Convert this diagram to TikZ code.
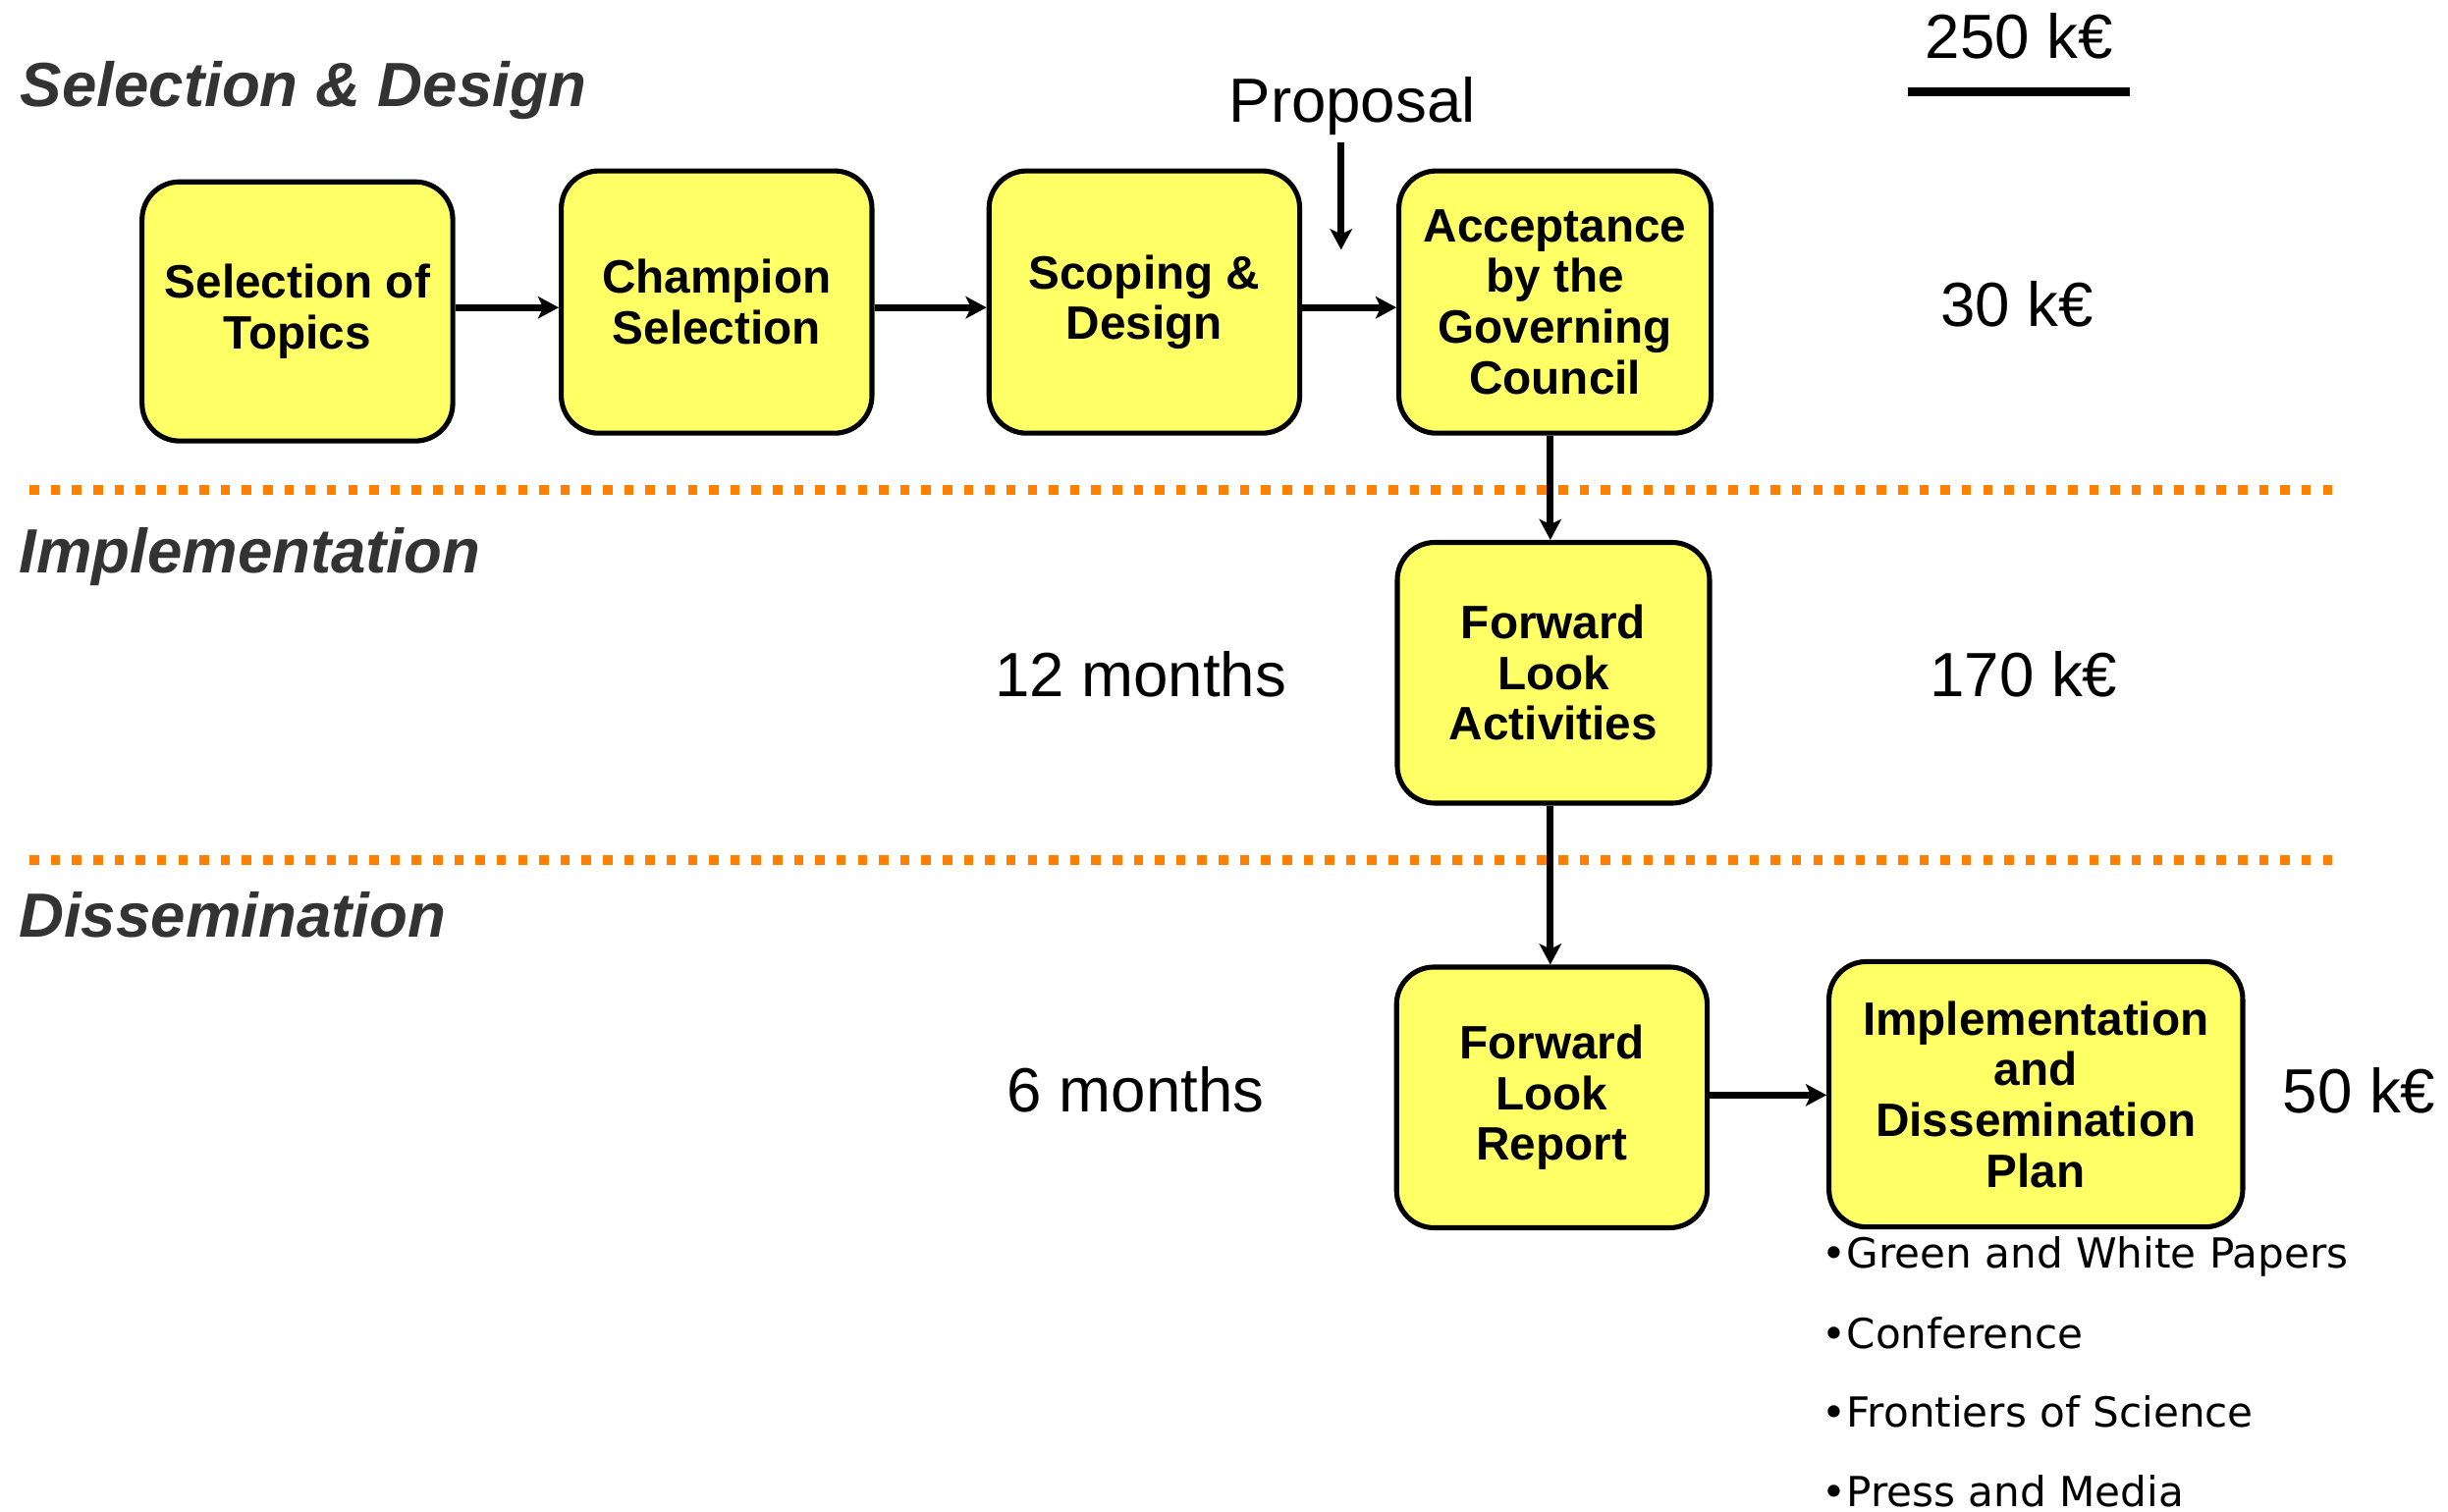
\documentclass[tikz,border=0pt]{standalone}
\usepackage{fontspec}
\setmainfont{Liberation Sans}
\newfontfamily\bulletfont{DejaVu Sans}
\usetikzlibrary{arrows.meta}
\definecolor{boxfill}{RGB}{255,255,102}
\definecolor{sepor}{RGB}{255,128,0}
\definecolor{headgray}{RGB}{51,51,51}
\tikzset{
  stagebox/.style={draw=black, line width=3.2pt, fill=boxfill, rounded corners=24pt,
    align=center, inner sep=0pt, minimum width=#1, minimum height=167pt,
    font=\fontsize{30}{32.5}\selectfont\bfseries},
  stagebox/.default=199pt,
  head/.style={anchor=base west, inner sep=0pt, text=headgray,
    font=\fontsize{40}{48}\selectfont\bfseries\itshape},
  lbl/.style={anchor=base west, inner sep=0pt, font=\fontsize{40}{48}\selectfont},
  bul/.style={anchor=base west, inner sep=0pt, font=\bulletfont\fontsize{26.5}{30}\selectfont},
  sepline/.style={draw=sepor, line width=6.3pt, dash pattern=on 6pt off 7.6pt},
  arr/.style={draw=black, line width=4.5pt, -{Stealth[length=13.5pt,width=14.5pt,inset=3.5pt,line width=0pt]}},
}
\begin{document}
\begin{tikzpicture}[x=1pt,y=-1pt]
\useasboundingbox (0,0) rectangle (1568,968);

% separators
\draw[sepline] (19,314) -- (1500,314);
\draw[sepline] (19,551) -- (1500,551);

% section headings
\node[head] (hsel) at (13,68) {Selection \& Design};
\node[head] (himp) at (12,367) {Implementation};
\node[head] (hdis) at (12,600.5) {Dissemination};

% boxes
\node[stagebox, minimum height=166pt] (topics) at (190.5,199.5) {Selection of\\Topics};
\node[stagebox, minimum height=168pt] (champ) at (459,193.5) {Champion\\Selection};
\node[stagebox, minimum height=168pt] (scope) at (733,193.5) {Scoping \&\\Design};
\node[stagebox=200pt, minimum height=168pt] (accept) at (996,193.5) {Acceptance\\by the\\Governing\\Council};
\node[stagebox=200pt] (fla) at (995,431) {Forward\\Look\\Activities};
\node[stagebox] (flr) at (994,703) {Forward\\Look\\Report};
\node[stagebox=265pt, minimum height=170pt] (idp) at (1304,701) {Implementation\\and\\Dissemination\\Plan};

% labels
\node[lbl] (prop) at (787,78.6) {Proposal};
\node[lbl] (total) at (1233,37.7) {250 k€};
\node[lbl] (c30) at (1243,209) {30 k€};
\node[lbl] (c170) at (1236,446.5) {170 k€};
\node[lbl] (m12) at (637,446.5) {12 months};
\node[lbl] (m6) at (645,712.5) {6 months};
\node[lbl] (c50) at (1462,713) {50 k€};

% underline of total
\coordinate (ulA) at (1222,59);
\coordinate (ulB) at (1364,59);
\draw[line width=5.5pt] (ulA) -- (ulB);

% bullets
\node[bul] (b1) at (1167,812.6) {•Green and White Papers};
\node[bul] (b2) at (1167,863.6) {•Conference};
\node[bul] (b3) at (1167,914.2) {•Frontiers of Science};
\node[bul] (b4) at (1167,965) {•Press and Media};

% connectors
\draw[arr] ([yshift=2.5pt]topics.east) -- ([yshift=2.5pt]topics.east -| champ.west);
\draw[arr] ([yshift=-3.5pt]champ.east) -- ([yshift=-3.5pt]scope.west);
\draw[arr] ([yshift=-3.5pt]scope.east) -- ([yshift=-3.5pt]accept.west);
\coordinate (pTop) at (859,91);
\coordinate (pEnd) at (859,160);
\draw[arr] (pTop) -- (pEnd);
\draw[arr] ([xshift=-2pt]fla.north |- accept.south) -- ([xshift=-2pt]fla.north);
\draw[arr] ([xshift=-2pt]fla.south) -- ([xshift=-2pt]fla.south |- flr.north);
\draw[arr] ([yshift=1.5pt]flr.east) -- ([yshift=1.5pt]flr.east -| idp.west);
\end{tikzpicture}
\end{document}
